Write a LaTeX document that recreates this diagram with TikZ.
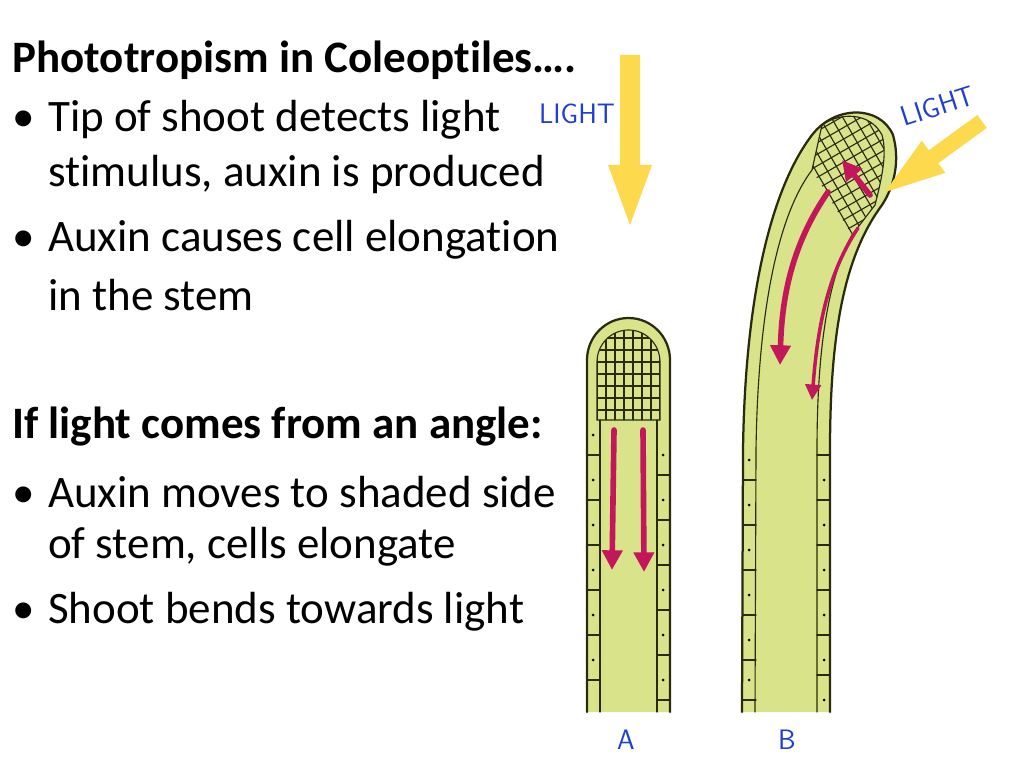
\documentclass[tikz,border=0pt]{standalone}
\usepackage{fontspec}
\setmainfont[Ligatures=NoCommon]{Carlito}
\usetikzlibrary{arrows.meta}
\definecolor{stemfill}{HTML}{D8E38A}
\definecolor{stemline}{HTML}{2A2A10}
\definecolor{auxin}{HTML}{C2185B}
\definecolor{lightray}{HTML}{FDD94E}
\definecolor{lightblue}{HTML}{1F3FD0}
\newcommand{\bul}{\makebox[25.5pt][l]{\textbullet}}
\tikzset{
  txt/.style={anchor=west, inner sep=0pt, font=\fontsize{32}{38}\selectfont},
  head/.style={txt, font=\fontsize{32}{38}\selectfont\bfseries},
  wall/.style={draw=stemline, line width=1.6pt},
  cellwall/.style={draw=stemline, line width=0.8pt},
  flow/.style={auxin, line width=4pt, -{Triangle[length=14pt,width=14pt]}},
  tag/.style={lightblue, font=\sffamily\fontsize{20}{20}\selectfont}
}
\begin{document}
\begin{tikzpicture}[x=0.025cm, y=-0.025cm, line cap=round]
  \useasboundingbox (0,0) rectangle (1024,768);

  % text block
  \node[head] (title) at (12,60) {Phototropism in Coleoptiles\dots.};
  \node[txt] (b1) at (12,120) {\bul Tip of shoot detects light};
  \node[txt] (b1b) at (48,175) {stimulus, auxin is produced};
  \node[txt] (b2) at (12,240) {\bul Auxin causes cell elongation};
  \node[txt] (b2b) at (48,295) {in the stem};
  \node[head] (angle) at (12,427) {If light comes from an angle:};
  \node[txt] (b3) at (12,492) {\bul Auxin moves to shaded side};
  \node[txt] (b3b) at (48,547) {of stem, cells elongate};
  \node[txt] (b4) at (12,612) {\bul Shoot bends towards light};

  % stem A
  \fill[stemfill] (587,712) -- (587,360) arc[start angle=180, end angle=0, x radius=41.5, y radius=-42] -- (670,712) -- cycle;
  \draw[wall] (587,712) -- (587,360) arc[start angle=180, end angle=0, x radius=41.5, y radius=-42] -- (670,712);
  \begin{scope}
    \clip (597,420) -- (597,362) arc[start angle=180, end angle=0, x radius=31.5, y radius=-32] -- (660,420) -- cycle;
    \foreach \gx in {597,606,...,660} \draw[cellwall] (\gx,320) -- (\gx,420);
    \foreach \gy in {338,350,...,420} \draw[cellwall] (590,\gy) -- (665,\gy);
  \end{scope}
  \draw[cellwall] (597,420) -- (597,362) arc[start angle=180, end angle=0, x radius=31.5, y radius=-32] -- (660,420) -- cycle;
  \draw[cellwall] (600,420) -- (600,712) (657,420) -- (657,712);
  \foreach \cy in {455,500,545,590,635,680} {
    \draw[cellwall] (587,\cy) -- (600,\cy) (657,\cy+20) -- (670,\cy+20);
    \fill (593,\cy-20) circle (1.5) (663,\cy) circle (1.5);
  }
  \draw[flow] (614,430) -- (612,570);
  \draw[flow] (643,430) -- (644,572);

  % stem B
  \path[fill=stemfill, wall] (742,712) -- (743,450) .. controls (745,300) and (770,190) .. (812,135)
    .. controls (835,105) and (880,105) .. (893,135) .. controls (900,160) and (895,185) .. (882,205)
    .. controls (845,255) and (830,330) .. (830,450) -- (830,712);
  \draw[cellwall] (755,712) -- (756,450) .. controls (758,310) and (778,215) .. (812,170);
  \draw[cellwall] (817,712) -- (817,450) .. controls (817,340) and (830,275) .. (852,235);
  \begin{scope}
    \clip (812,170) -- (822,125) .. controls (840,112) and (870,112) .. (882,135)
      .. controls (888,155) and (880,185) .. (875,205) -- (852,235) -- cycle;
    \begin{scope}[rotate around={30:(850,170)}]
      \foreach \gx in {790,800,...,920} \draw[cellwall] (\gx,90) -- (\gx,260);
      \foreach \gy in {90,100,...,260} \draw[cellwall] (790,\gy) -- (920,\gy);
    \end{scope}
  \end{scope}
  \draw[cellwall] (812,170) -- (822,125) .. controls (840,112) and (870,112) .. (882,135)
    .. controls (888,155) and (880,185) .. (875,205) -- (852,235);
  \foreach \cy in {480,525,570,615,660,700} {
    \draw[cellwall] (743,\cy) -- (756,\cy) (817,\cy-25) -- (830,\cy-25);
    \fill (749,\cy-20) circle (1.5) (824,\cy) circle (1.5);
  }
  \draw[flow] (870,195) -- (842,160);
  \draw[flow] (828,192) .. controls (795,240) and (782,290) .. (780,365);
  \draw[auxin, line width=2.5pt, -{Triangle[length=11pt,width=11pt]}] (858,228) .. controls (830,270) and (818,320) .. (812,400);

  % light rays
  \fill[lightray] (620,55) -- (640,55) -- (640,165) -- (652,165) -- (630,225) -- (608,165) -- (620,165) -- cycle;
  \begin{scope}[rotate around={36:(885,192)}]
    \fill[lightray] (885,192) -- (945,172) -- (945,184) -- (1005,184) -- (1005,200) -- (945,200) -- (945,212) -- cycle;
  \end{scope}
  \node[tag] (lightA) at (577,114) {LIGHT};
  \node[tag, rotate=18] (lightB) at (938,106) {LIGHT};
  \node[tag] (labA) at (626,740) {A};
  \node[tag] (labB) at (787,740) {B};
\end{tikzpicture}
\end{document}
